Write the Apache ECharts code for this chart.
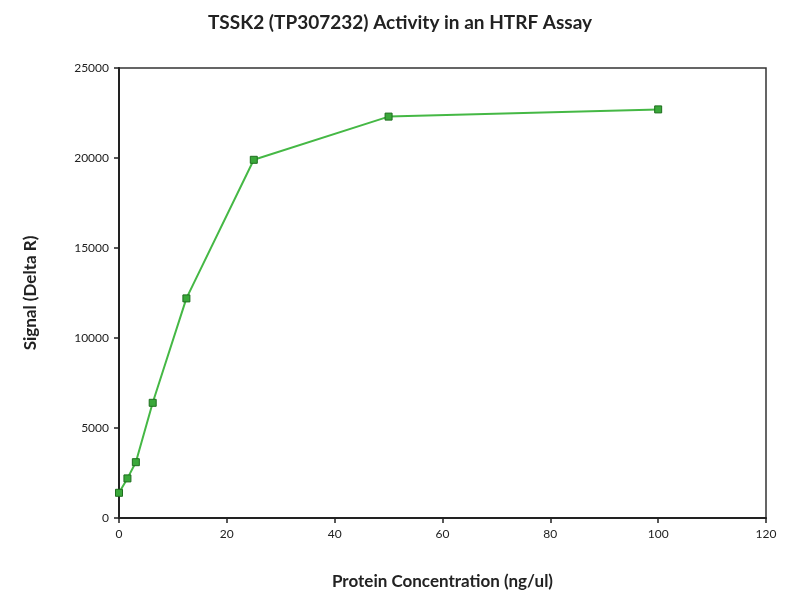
<!DOCTYPE html>
<html>
<head>
<meta charset="utf-8">
<script src="https://cdn.jsdelivr.net/npm/echarts@6/dist/echarts.min.js"></script>
<style>
  html, body { margin: 0; padding: 0; background: #fff; }
  #main { width: 800px; height: 600px; }
</style>
</head>
<body>
<div id="main"></div>
<script>
// protein concentration (ng/ul) and HTRF signal
const concentration = [0, 1.5625, 3.125, 6.25, 12.5, 25, 50, 100];
const signal = [1400, 2200, 3100, 6400, 12200, 19900, 22300, 22700];

const chart = echarts.init(document.getElementById('main'));
const font = 'Lato, "Open Sans", sans-serif';

chart.setOption({
    backgroundColor: '#fff',
    title: {
        text: 'TSSK2 (TP307232) Activity in an HTRF Assay',
        left: 'center',
        top: 8,
        textStyle: {fontFamily: font, fontSize: 19, fontWeight: 'bold', color: '#222'}
    },
    grid: {
        left: 119,
        right: 34,
        top: 68,
        bottom: 82,
        show: true,
        borderColor: '#333',
        borderWidth: 1.5
    },
    xAxis: {
        type: 'value',
        min: 0,
        max: 120,
        interval: 20,
        name: 'Protein Concentration (ng/ul)',
        nameLocation: 'middle',
        nameGap: 55,
        nameTextStyle: {fontFamily: font, fontSize: 17, fontWeight: 'bold', color: '#222'},
        axisLine: {lineStyle: {color: '#222', width: 2}},
        axisTick: {show: true, length: 5, lineStyle: {color: '#222', width: 1.5}},
        axisLabel: {fontFamily: font, fontSize: 12, color: '#222', margin: 10},
        splitLine: {show: false}
    },
    yAxis: {
        type: 'value',
        min: 0,
        max: 25000,
        interval: 5000,
        name: 'Signal (Delta R)',
        nameLocation: 'middle',
        nameGap: 80,
        nameTextStyle: {fontFamily: font, fontSize: 17, fontWeight: 'bold', color: '#222'},
        axisLine: {show: true, lineStyle: {color: '#222', width: 2}},
        axisTick: {show: true, length: 5, lineStyle: {color: '#222', width: 1.5}},
        axisLabel: {fontFamily: font, fontSize: 12, color: '#222', margin: 10, formatter: v => String(v)},
        splitLine: {show: false}
    },
    series: [{
        type: 'line',
        data: concentration.map((c, i) => [c, signal[i]]),
        symbol: 'rect',
        symbolSize: 7,
        lineStyle: {color: '#45b845', width: 2},
        itemStyle: {color: '#3aa83a', borderColor: '#1e6e1e', borderWidth: 1},
        animation: false
    }]
});
</script>
</body>
</html>
